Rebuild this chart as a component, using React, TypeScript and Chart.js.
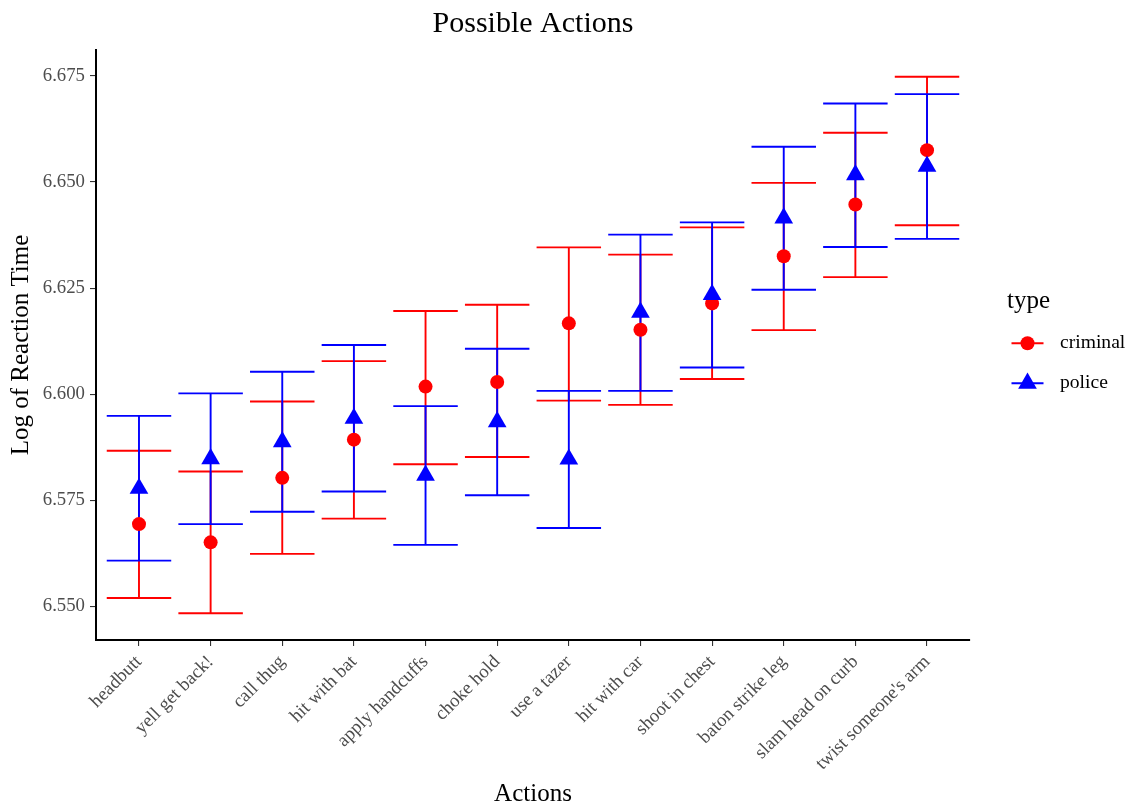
import React, { useEffect, useRef } from 'react';
import { Chart, registerables } from 'chart.js';

Chart.register(...registerables);

const categories = [
  'headbutt',
  'yell get back!',
  'call thug',
  'hit with bat',
  'apply handcuffs',
  'choke hold',
  'use a tazer',
  'hit with car',
  'shoot in chest',
  'baton strike leg',
  'slam head on curb',
  "twist someone's arm",
];

const criminalMean = [6.5694, 6.5651, 6.5803, 6.5893, 6.6018, 6.6029, 6.6167, 6.6152, 6.6214, 6.6325, 6.6447, 6.6575];
const criminalLower = [6.552, 6.5484, 6.5624, 6.5707, 6.5835, 6.5852, 6.5985, 6.5975, 6.6036, 6.6151, 6.6276, 6.6398];
const criminalUpper = [6.5867, 6.5818, 6.5983, 6.6078, 6.6196, 6.6211, 6.6346, 6.6329, 6.6393, 6.6498, 6.6616, 6.6748];

const policeMean = [6.5778, 6.5848, 6.5888, 6.5943, 6.5809, 6.5935, 6.5847, 6.6193, 6.6235, 6.6415, 6.6517, 6.6537];
const policeLower = [6.5608, 6.5694, 6.5723, 6.5771, 6.5645, 6.5762, 6.5685, 6.6008, 6.6063, 6.6246, 6.6347, 6.6366];
const policeUpper = [6.5949, 6.6002, 6.6053, 6.6116, 6.5972, 6.6107, 6.6008, 6.6376, 6.6405, 6.6583, 6.6685, 6.6707];

const yTicks = [6.55, 6.575, 6.6, 6.625, 6.65, 6.675];

const seriesNames = ['criminal', 'police'];
const seriesColors = ['#FF0000', '#0000FF'];

const FONT = '"Liberation Serif", "DejaVu Serif", serif';
const RED = seriesColors[0];
const BLUE = seriesColors[1];

function drawTriangle(ctx: CanvasRenderingContext2D, x: number, y: number, r: number) {
  ctx.beginPath();
  let rad = 0;
  ctx.moveTo(x + Math.sin(rad) * r, y - Math.cos(rad) * r);
  rad += (2 * Math.PI) / 3;
  ctx.lineTo(x + Math.sin(rad) * r, y - Math.cos(rad) * r);
  rad += (2 * Math.PI) / 3;
  ctx.lineTo(x + Math.sin(rad) * r, y - Math.cos(rad) * r);
  ctx.closePath();
  ctx.fill();
}

const errorBarPlugin = {
  id: 'errorBars',
  beforeDatasetsDraw(chart: any) {
    const ctx = chart.ctx as CanvasRenderingContext2D;
    const xs = chart.scales.x;
    const ys = chart.scales.y;
    const capHalf = xs.getPixelForValue(0.45) - xs.getPixelForValue(0);
    const groups = [
      { lo: criminalLower, hi: criminalUpper, color: RED },
      { lo: policeLower, hi: policeUpper, color: BLUE },
    ];
    ctx.save();
    ctx.lineWidth = 1.9;
    ctx.lineCap = 'butt';
    for (const g of groups) {
      ctx.strokeStyle = g.color;
      for (let i = 0; i < categories.length; i++) {
        const x = xs.getPixelForValue(i);
        const y1 = ys.getPixelForValue(g.lo[i]);
        const y2 = ys.getPixelForValue(g.hi[i]);
        ctx.beginPath();
        ctx.moveTo(x, y1);
        ctx.lineTo(x, y2);
        ctx.moveTo(x - capHalf, y1);
        ctx.lineTo(x + capHalf, y1);
        ctx.moveTo(x - capHalf, y2);
        ctx.lineTo(x + capHalf, y2);
        ctx.stroke();
      }
    }
    ctx.restore();
  },
};

const decorPlugin = {
  id: 'decor',
  afterDraw(chart: any) {
    const ctx = chart.ctx as CanvasRenderingContext2D;
    const area = chart.chartArea;
    ctx.save();
    // Title
    ctx.fillStyle = '#000000';
    ctx.font = `30px ${FONT}`;
    ctx.textAlign = 'center';
    ctx.textBaseline = 'alphabetic';
    ctx.fillText('Possible Actions', (area.left + area.right) / 2, 31.5);

    // Legend
    ctx.textAlign = 'left';
    ctx.font = `25px ${FONT}`;
    ctx.fillText('type', 1007, 307.5);

    const rows = [343.3, 383.3];
    ctx.font = `19.6px ${FONT}`;
    ctx.textBaseline = 'middle';
    for (let k = 0; k < seriesNames.length; k++) {
      const y = rows[k];
      ctx.strokeStyle = seriesColors[k];
      ctx.lineWidth = 1.9;
      ctx.beginPath();
      ctx.moveTo(1011.5, y);
      ctx.lineTo(1043.5, y);
      ctx.stroke();
      ctx.fillStyle = seriesColors[k];
      if (k === 0) {
        ctx.beginPath();
        ctx.arc(1027.5, y, 7, 0, Math.PI * 2);
        ctx.fill();
      } else {
        drawTriangle(ctx, 1027.5, y, 10.8);
      }
      ctx.fillStyle = '#000000';
      ctx.fillText(seriesNames[k], 1060, y);
    }
    ctx.restore();
  },
};

export default function App() {
  const ref = useRef<HTMLCanvasElement | null>(null);

  useEffect(() => {
    document.body.style.margin = '0';
    const canvas = ref.current;
    if (!canvas) return;
    const chart = new Chart(canvas, {
      type: 'scatter',
      data: {
        datasets: [
          {
            label: seriesNames[0],
            data: categories.map((_, i) => ({ x: i, y: criminalMean[i] })),
            pointStyle: 'circle',
            pointRadius: 7,
            pointHoverRadius: 7,
            backgroundColor: RED,
            borderColor: RED,
            borderWidth: 0,
            order: 1,
          },
          {
            label: seriesNames[1],
            data: categories.map((_, i) => ({ x: i, y: policeMean[i] })),
            pointStyle: 'triangle',
            pointRadius: 10.8,
            pointHoverRadius: 10.8,
            backgroundColor: BLUE,
            borderColor: BLUE,
            borderWidth: 0,
            order: 0,
          },
        ],
      },
      options: {
        responsive: false,
        animation: false,
        devicePixelRatio: 1,
        layout: { padding: { top: 50, right: 160, left: 0, bottom: 0 } },
        plugins: {
          legend: { display: false },
          tooltip: { enabled: false },
          title: { display: false },
        },
        scales: {
          x: {
            type: 'linear',
            min: -0.6,
            max: categories.length - 1 + 0.6,
            afterFit: (scale: any) => {
              scale.height = 167;
            },
            afterBuildTicks: (scale: any) => {
              scale.ticks = categories.map((_, i) => ({ value: i }));
            },
            ticks: {
              autoSkip: false,
              minRotation: 45,
              maxRotation: 45,
              padding: 5,
              color: '#4D4D4D',
              font: { family: FONT, size: 18.8 },
              callback: (v: any) => categories[Number(v)] ?? '',
            },
            grid: {
              drawOnChartArea: false,
              drawTicks: true,
              tickLength: 6,
              color: '#333333',
              lineWidth: 1.1,
            },
            border: { display: true, color: '#000000', width: 2 },
            title: {
              display: true,
              text: 'Actions',
              color: '#000000',
              font: { family: FONT, size: 25 },
              padding: { top: 0, bottom: -2 },
            },
          },
          y: {
            type: 'linear',
            min: 6.5421,
            max: 6.6811,
            afterFit: (scale: any) => {
              scale.width = 96;
            },
            afterBuildTicks: (scale: any) => {
              scale.ticks = yTicks.map((v) => ({ value: v }));
            },
            ticks: {
              padding: 5,
              color: '#4D4D4D',
              font: { family: FONT, size: 18.8 },
              callback: (v: any) => Number(v).toFixed(3),
            },
            grid: {
              drawOnChartArea: false,
              drawTicks: true,
              tickLength: 6,
              color: '#333333',
              lineWidth: 1.1,
            },
            border: { display: true, color: '#000000', width: 2 },
            title: {
              display: true,
              text: 'Log of Reaction Time',
              color: '#000000',
              font: { family: FONT, size: 25 },
              padding: { top: 6, bottom: 0 },
            },
          },
        },
      },
      plugins: [errorBarPlugin, decorPlugin],
    } as any);
    return () => chart.destroy();
  }, []);

  return (
    <div style={{ position: 'relative', width: 1130, height: 807, background: '#ffffff' }}>
      <canvas ref={ref} width={1130} height={807} style={{ display: 'block' }} />
    </div>
  );
}
